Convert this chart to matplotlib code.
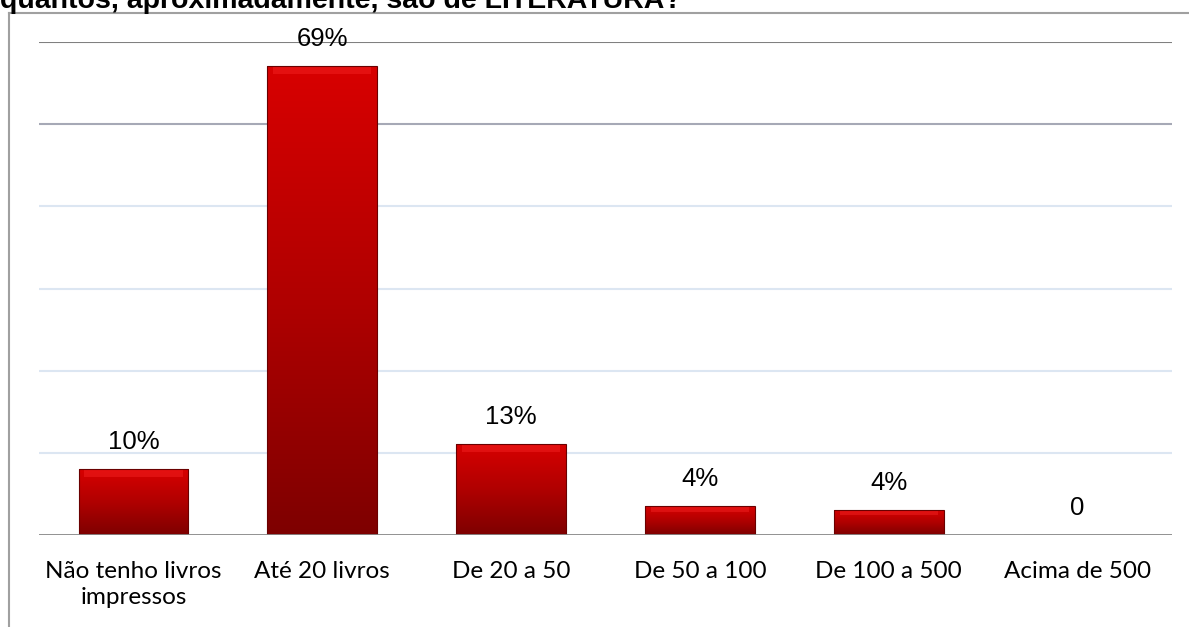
import matplotlib
matplotlib.use('Agg')
import matplotlib.pyplot as plt
import numpy as np
from matplotlib.colors import LinearSegmentedColormap

# Dados
categorias = ['Não tenho livros\nimpressos', 'Até 20 livros', 'De 20 a 50',
              'De 50 a 100', 'De 100 a 500', 'Acima de 500']
valores = [9.6, 68.5, 13.3, 4.2, 3.7, 0]
rotulos = ['10%', '69%', '13%', '4%', '4%', '0']
grade = [12, 24, 36, 48, 60, 72]
titulo = 'quantos, aproximadamente, são de LITERATURA?'

W, H = 1189, 627
fig = plt.figure(figsize=(W / 100, H / 100), dpi=100)

# moldura (linha cinza à esquerda e em cima)
fig.add_artist(plt.Line2D([9 / W, 9 / W], [0, 1 - 13 / H], color='#a0a0a0', lw=1.5))
fig.add_artist(plt.Line2D([9 / W, 1], [1 - 13 / H, 1 - 13 / H], color='#a0a0a0', lw=1.5))

# título cortado no topo, como no original
fig.text(0, 1 - 8 / H, titulo, fontsize=20.5, fontweight='bold',
         family='Liberation Sans', va='baseline', ha='left')

ax = fig.add_axes([39 / W, 1 - 535 / H, (1172 - 39) / W, (535 - 42) / H])

cores_grade = ['#dce6f2', '#dce6f2', '#dce6f2', '#dce6f2', '#a6a9b6', '#808080']
for g, c in zip(grade, cores_grade):
    ax.axhline(g, color=c, lw=1.5, zorder=1)
ax.axhline(0, color='#888888', lw=2, zorder=4)

cmap = LinearSegmentedColormap.from_list('verm', ['#7e0000', '#b00000', '#d80000'])
x = np.arange(len(categorias))
barras = ax.bar(x, valores, width=0.58, color='none', edgecolor='#6a0000', lw=0.8, zorder=3)
grad = np.linspace(0, 1, 256).reshape(-1, 1)
for b, v in zip(barras, valores):
    if v <= 0:
        continue
    x0 = b.get_x()
    im = ax.imshow(grad, cmap=cmap, aspect='auto', origin='lower',
                   extent=[x0, x0 + b.get_width(), 0, v], zorder=2)
    im.set_clip_path(b)
    # brilho no topo
    ax.fill_between([x0 + 0.03, x0 + b.get_width() - 0.03], v - min(1.2, v * 0.2), v,
                    color='#ff3030', alpha=0.35, lw=0, zorder=2.5)

ax.set_xlim(-0.5, len(categorias) - 0.5)
ax.set_ylim(0, 72)

for xi, v, r in zip(x, valores, rotulos):
    ax.annotate(r, (xi, v), xytext=(0, 27), textcoords='offset pixels',
                ha='center', va='center', fontsize=18.5, family='Liberation Sans',
                annotation_clip=False)

ax.set_xticks(x)
ax.set_xticklabels(categorias, fontsize=17.5, family='Lato', linespacing=1.3)
ax.tick_params(axis='x', length=0, pad=19)
ax.set_yticks([])
for s in ax.spines.values():
    s.set_visible(False)

fig.savefig('out.png', dpi=100)
